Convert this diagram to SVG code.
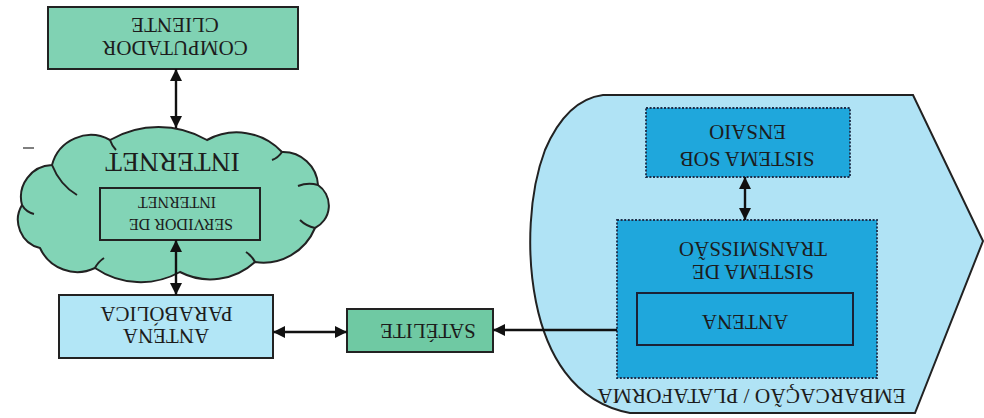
<svg xmlns="http://www.w3.org/2000/svg" width="984" height="418" viewBox="0 0 984 418">
<style>
.t{font-family:"Liberation Serif","Times New Roman",serif;font-size:21px;text-anchor:middle;fill:#1c1c1c}
.box{stroke:#222;stroke-width:2}
.green{fill:#80d2b3}
.sat{fill:#6fc9a3}
.lblue{fill:#b2e6f6}
.sys{fill:#1fa7dc;stroke:#1d2e4a;stroke-width:1.8;stroke-dasharray:2 1.6}
.conn{stroke:#111;stroke-width:2.4;fill:none}
.curl{fill:none;stroke:#222;stroke-width:2}
</style>
<defs>
<marker id="ah" viewBox="0 0 12 12" refX="12" refY="6" markerWidth="12" markerHeight="12" markerUnits="userSpaceOnUse" orient="auto-start-reverse">
<path d="M0,0 L12,6 L0,12 z" fill="#111"/>
</marker>
</defs>
<rect width="984" height="418" fill="#ffffff"/>

<g id="embarcacao">
<path d="M603,95 L913,95 L983,241 L915,413 L630,413 C572,402 546,352 536,302 C526,252 529,192 545,150 C560,115 580,98 603,95 Z" fill="#b0e3f5" stroke="#222" stroke-width="2"/>
<text class="t" x="751.5" y="403.6" style="font-size:21.4px" transform="rotate(180 751.5 396.5)">EMBARCAÇÃO / PLATAFORMA</text>
</g>

<g id="sistema-sob-ensaio">
<rect class="sys" x="646" y="108" width="204" height="69"/>
<text class="t" x="747" y="165.4" transform="rotate(180 747 158.5)">SISTEMA SOB</text>
<text class="t" x="747.5" y="138.4" transform="rotate(180 747.5 131.5)">ENSAIO</text>
</g>

<g id="sistema-transmissao">
<rect class="sys" x="617" y="220" width="260" height="158"/>
<text class="t" x="753" y="278.9" transform="rotate(180 753 272)">SISTEMA DE</text>
<text class="t" x="753" y="255.4" transform="rotate(180 753 248.5)">TRANSMISSÃO</text>
</g>

<g id="antena">
<rect x="637" y="293" width="216" height="52" fill="#1fa7dc" stroke="#1a2236" stroke-width="2"/>
<text class="t" x="745" y="328.4" transform="rotate(180 745 321.5)">ANTENA</text>
</g>

<g id="computador-cliente">
<rect class="box green" x="48" y="7" width="250" height="62"/>
<text class="t" x="175" y="54.9" transform="rotate(180 175 48)">COMPUTADOR</text>
<text class="t" x="175" y="31.9" transform="rotate(180 175 25)">CLIENTE</text>
</g>

<g id="internet">
<path d="M52,165 A40,40 0 0 1 110,140 A97,97 0 0 1 207,140 A62,62 0 0 1 282,152 A35,35 0 0 1 318,185 A25,25 0 0 1 315,228 A56,56 0 0 1 255,262 A66,66 0 0 1 180,272 A81,81 0 0 1 95,268 A41,41 0 0 1 40,248 A29,29 0 0 1 22,205 A32,32 0 0 1 52,165 Z" fill="#82d4b6" stroke="#222" stroke-width="2"/>
<path class="curl" d="M52,165 Q60,185 77,195"/>
<path class="curl" d="M22,205 Q26,212 34,214"/>
<path class="curl" d="M110,140 Q112,146 116,150"/>
<path class="curl" d="M282,152 Q278,158 272,160"/>
<path class="curl" d="M318,185 Q308,182 298,186"/>
<path class="curl" d="M315,228 Q306,226 300,220"/>
<path class="curl" d="M255,262 Q252,256 246,252"/>
<path class="curl" d="M95,268 Q98,262 104,258"/>
<text class="t" x="172.5" y="171.6" style="font-size:27.5px" transform="rotate(180 172.5 162.5)">INTERNET</text>
</g>

<g id="servidor-internet">
<rect x="100" y="188" width="160" height="52" fill="#82d4b6" stroke="#222" stroke-width="2"/>
<text class="t" x="181" y="229.3" style="font-size:16px" transform="rotate(180 181 224)">SERVIDOR DE</text>
<text class="t" x="177" y="207.3" style="font-size:16px" transform="rotate(180 177 202)">INTERNET</text>
</g>

<g id="antena-parabolica">
<rect class="box lblue" x="59" y="295" width="214" height="63"/>
<text class="t" x="166" y="342.9" transform="rotate(180 166 336)">ANTENA</text>
<text class="t" x="166.5" y="320.9" transform="rotate(180 166.5 314)">PARABÓLICA</text>
</g>

<g id="satelite">
<rect class="box sat" x="347" y="309" width="146" height="43"/>
<text class="t" x="428" y="337.9" transform="rotate(180 428 331)">SATÉLITE</text>
</g>

<g id="connectors">
<line class="conn" x1="176" y1="69" x2="176" y2="128" marker-start="url(#ah)" marker-end="url(#ah)"/>
<line class="conn" x1="176" y1="240" x2="176" y2="295" marker-start="url(#ah)" marker-end="url(#ah)"/>
<line class="conn" x1="273" y1="332" x2="347" y2="332" marker-start="url(#ah)" marker-end="url(#ah)"/>
<line class="conn" x1="617" y1="330" x2="493" y2="330" stroke-width="2" marker-end="url(#ah)"/>
<line class="conn" x1="745" y1="177" x2="745" y2="220" marker-start="url(#ah)" marker-end="url(#ah)"/>
</g>

<line x1="23" y1="148" x2="34" y2="148" stroke="#555" stroke-width="1.5"/>
</svg>
